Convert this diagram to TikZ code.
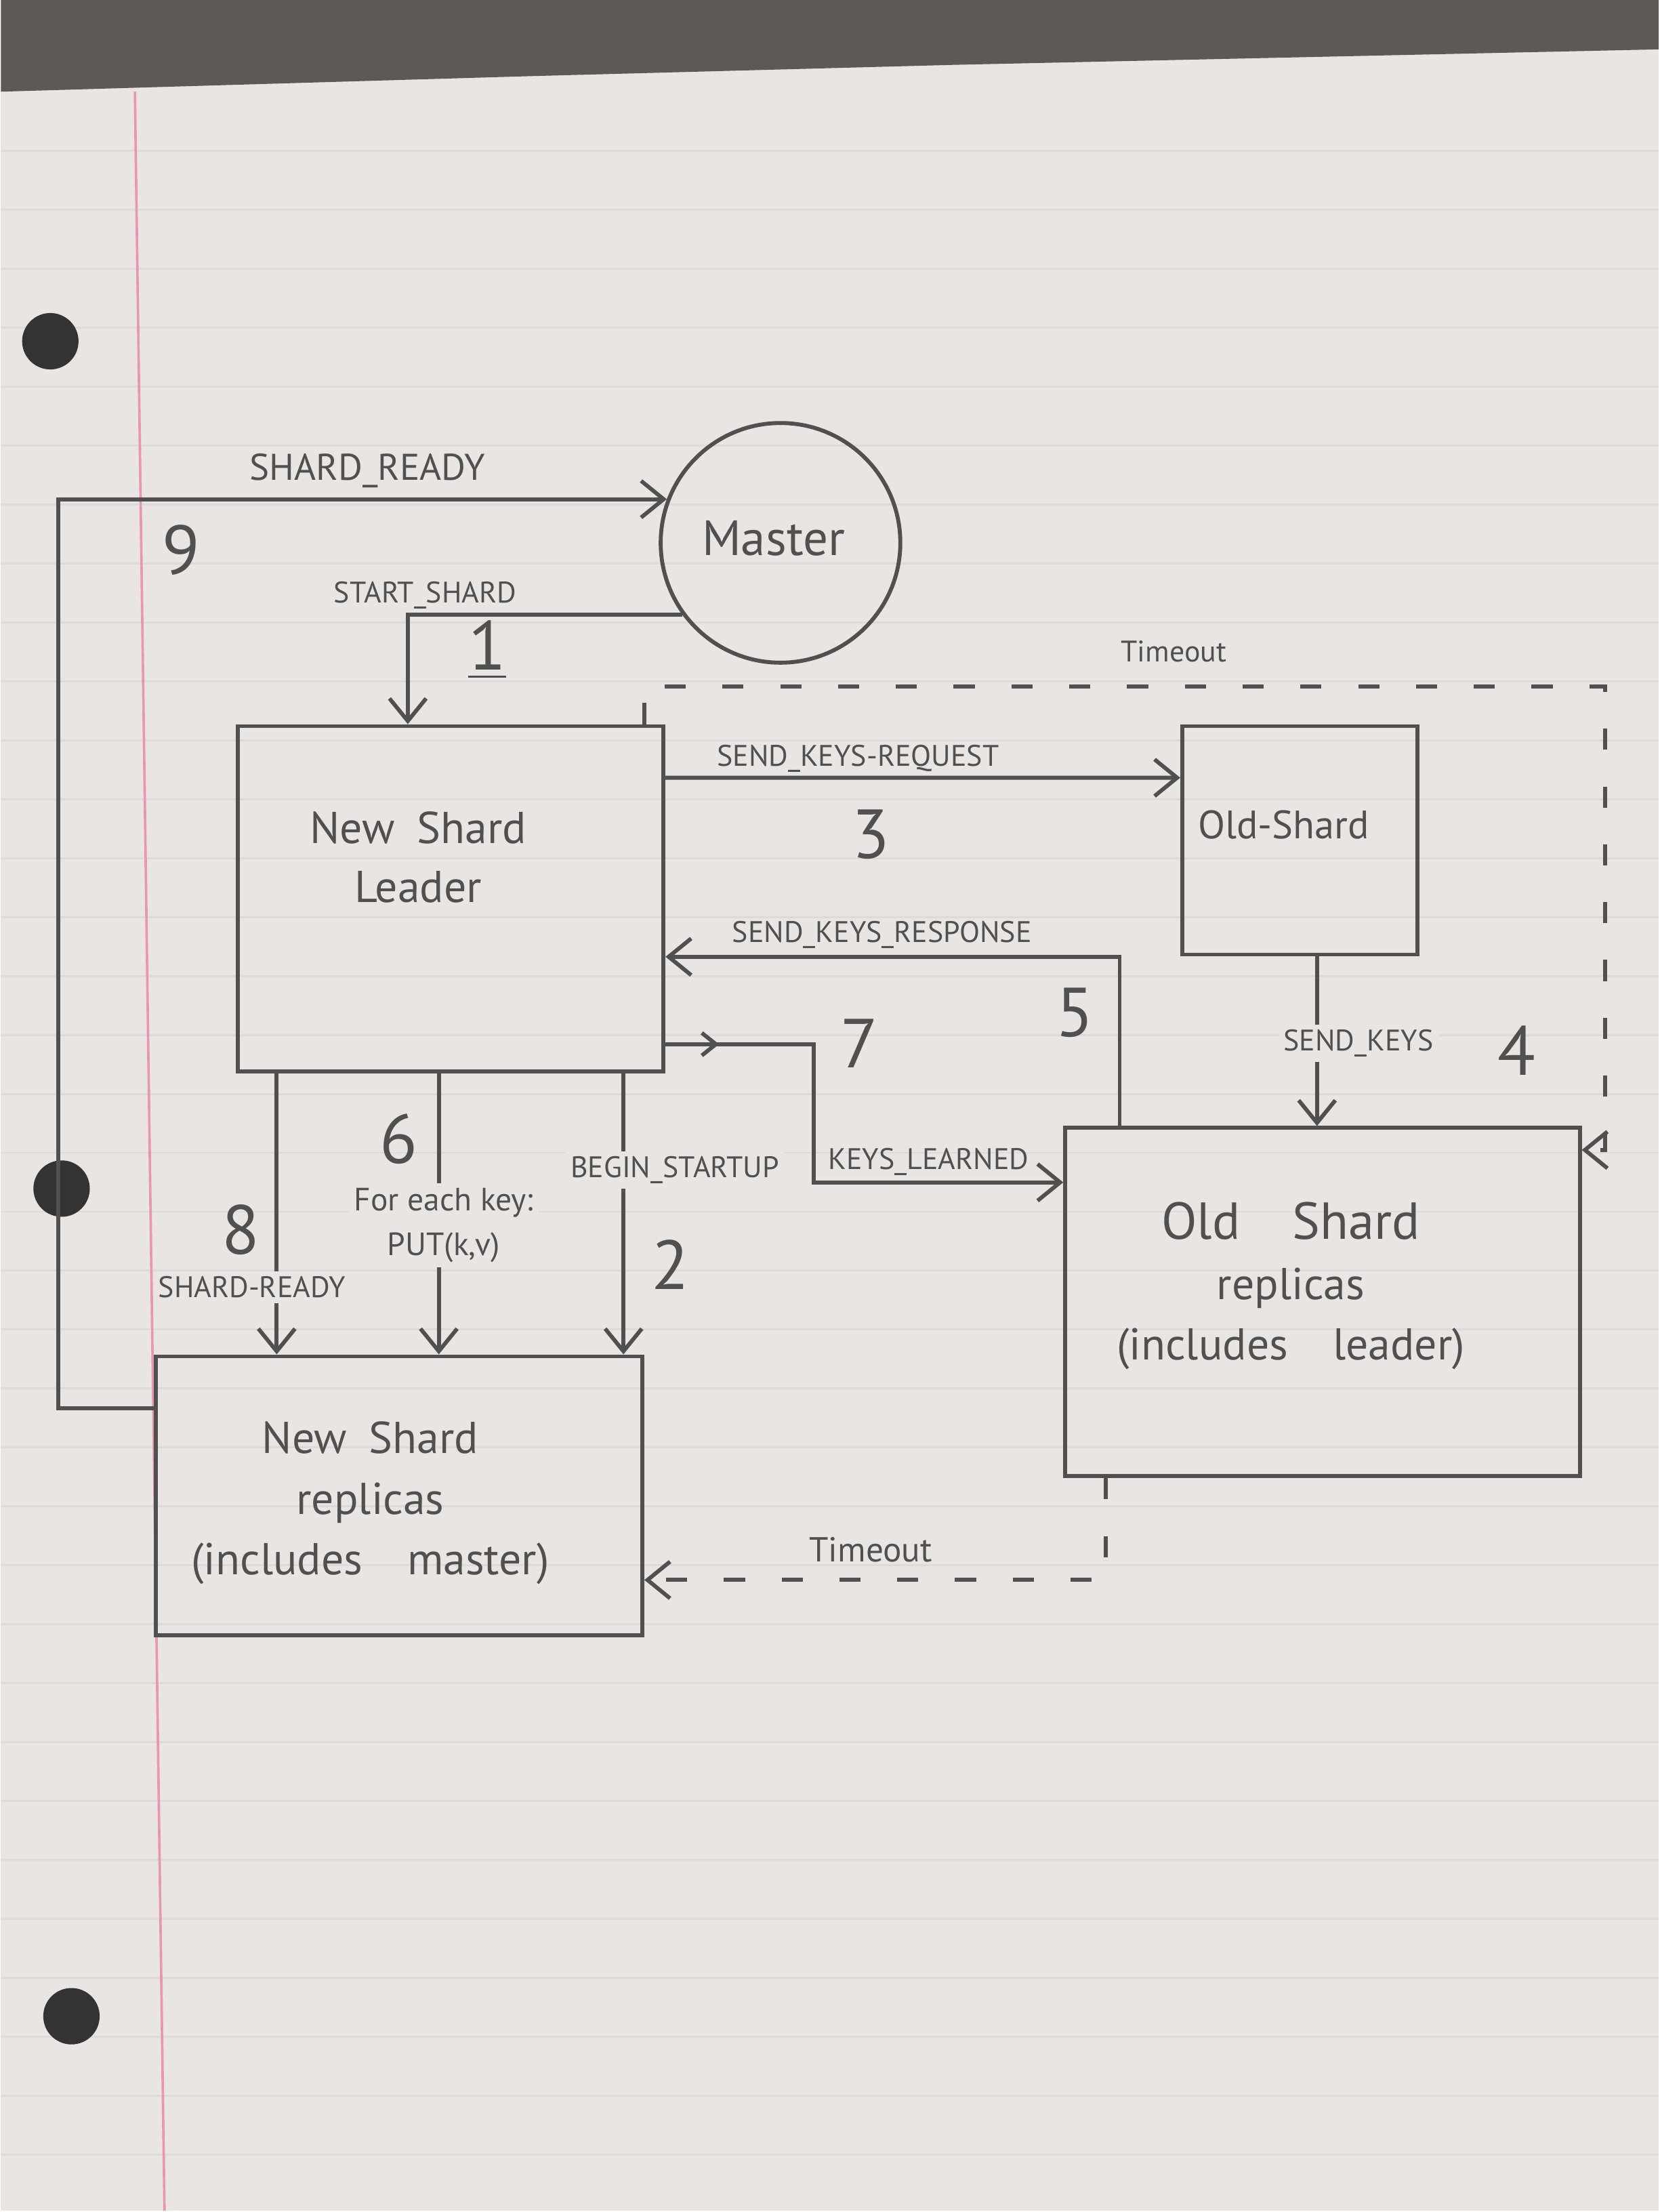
\documentclass[tikz,border=0pt]{standalone}
\usepackage{fontspec}
\setmainfont{PT Sans}
\usetikzlibrary{arrows.meta,fit,calc,decorations.markings}
\definecolor{paper}{RGB}{233,229,226}
\definecolor{desk}{RGB}{92,89,87}
\definecolor{pencil}{RGB}{80,80,80}
\definecolor{ruleline}{RGB}{221,218,217}
\definecolor{marginred}{RGB}{232,150,178}
\begin{document}
\begin{tikzpicture}[x=0.1mm,y=-0.1mm,
  box/.style={draw=pencil, line width=0.8pt, inner sep=0pt},
  conn/.style={draw=pencil, line width=0.8pt},
  arr/.style={conn, -{Straight Barb[length=1.6mm,width=2.6mm]}},
  tdash/.style={dash pattern=on 1.5mm off 2.6mm},
  lbl/.style={text=pencil, font=\fontsize{6}{7}\selectfont, inner sep=1pt},
  biglbl/.style={text=pencil, font=\fontsize{7.5}{9}\selectfont, inner sep=1pt},
  num/.style={text=pencil, font=\fontsize{14}{16}\selectfont, inner sep=0pt},
  inbox/.style={text=pencil, font=\fontsize{9}{12}\selectfont, align=center, inner sep=0pt},
  gap/.style={fill=paper},
  midarr/.style={postaction={decorate}, decoration={markings, mark=at position 0.1 with {\arrow[pencil]{Straight Barb[length=1mm,width=1.6mm]}}}},
]
% paper and desk
\fill[paper] (0,0) rectangle (1176,1568);
\fill[desk] (0,0) -- (1176,0) -- (1176,35) -- (675,46) -- (375,54) -- (0,65) -- cycle;
\foreach \k in {0,...,34} \draw[ruleline, line width=0.4pt] (0,{107+41.8*\k}) -- (1176,{107+41.8*\k});
\draw[marginred, line width=0.5pt] (95,65) -- (116,1568);
\fill[black!80] (35,242) circle (2mm);
\fill[black!80] (43,843) circle (2mm);
\fill[black!80] (50,1430) circle (2mm);

% nodes
\node[box, circle, minimum size=17mm] (master) at (553,385) {};
\node[inbox, font=\fontsize{10}{12}\selectfont] (mastertext) at (548,382) {Master};
\node[box, fit={(168,515) (470,760)}] (nsl) {};
\node[inbox] (nsltext) at (296,608) {New\enspace Shard\\Leader};
\node[box, fit={(838,515) (1005,677)}] (os) {};
\node[inbox, font=\fontsize{8}{10}\selectfont] (ostext) at (910,585) {Old-Shard};
\node[box, fit={(755,800) (1120,1047)}] (osr) {};
\node[inbox, font=\fontsize{9}{12.2}\selectfont] (osrtext) at (915,912) {{\fontsize{10.5}{12}\selectfont Old\quad Shard}\\ replicas\\ (includes\quad leader)};
\node[box, fit={(110,962) (455,1160)}] (nsr) {};
\node[inbox, font=\fontsize{9}{12.2}\selectfont] (nsrtext) at (262,1066) {New\enspace Shard\\ replicas\\ (includes\quad master)};

% 9: SHARD_READY to master
\draw[arr] ($(nsr.north west)+(0,38)$) -- ++(-68,0) |- (master.159);
\node[biglbl, anchor=south] (l9) at (260,350) {SHARD\_READY};
\node[num] (n9) at (128,390) {9};

% 1: START_SHARD
\draw[arr] (master.216) -| ($(nsl.north west)+(122,0)$);
\node[lbl, anchor=south west] (l1) at (232,436) {START\_SHARD};
\node[num] (n1) at (345,461) {\underline{1}};

% 2: BEGIN_STARTUP
\draw[arr] ($(nsl.south west)+(275,0)$) -- ($(nsr.north west)+(333,0)$);
\node[lbl, gap] (l2) at (478,830) {BEGIN\_STARTUP};
\node[num] (n2) at (475,897) {2};

% 6: PUT
\draw[arr] ($(nsl.south west)+(144,0)$) -- ($(nsr.north west)+(202,0)$);
\node[lbl, gap, align=center, font=\fontsize{6.5}{9}\selectfont] (l6) at (314,869) {For each key:\\PUT(k,v)};
\node[num] (n6) at (282,808) {6};

% 8: SHARD-READY
\draw[arr] ($(nsl.south west)+(29,0)$) -- ($(nsr.north west)+(87,0)$);
\node[lbl, gap] (l8) at (178,913) {SHARD-READY};
\node[num] (n8) at (170,872) {8};

% 3: SEND_KEYS-REQUEST
\draw[arr] ($(nsl.north east)+(0,38)$) -- ($(os.north west)+(0,38)$);
\node[lbl, anchor=south] (l3) at (608,552) {SEND\_KEYS-REQUEST};
\node[num] (n3) at (617,592) {3};

% 5: SEND_KEYS_RESPONSE
\draw[arr] ($(osr.north west)+(40,0)$) |- ($(nsl.north east)+(0,165)$);
\node[lbl, anchor=south] (l5) at (625,677) {SEND\_KEYS\_RESPONSE};
\node[num] (n5) at (762,718) {5};

% 4: SEND_KEYS
\draw[arr] ($(os.south west)+(97,0)$) -- ($(osr.north west)+(180,0)$);
\node[lbl, gap] (l4) at (963,740) {SEND\_KEYS};
\node[num] (n4) at (1075,745) {4};

% 7: KEYS_LEARNED
\draw[arr, midarr] ($(nsl.north east)+(0,227)$) -- ++(105,0) |- ($(osr.north west)+(0,40)$);
\node[lbl, anchor=south] (l7) at (658,838) {KEYS\_LEARNED};
\node[num] (n7) at (609,740) {7};

% Timeout (top)
\draw[arr, tdash] ($(nsl.north east)+(-15,0)$) |- (1138,487) |- ($(osr.north east)+(0,17)$);
\node[lbl] (lt1) at (832,462) {Timeout};

% Timeout (bottom)
\draw[arr, tdash] ($(osr.south west)+(30,0)$) |- ($(nsr.north east)+(0,160)$);
\node[lbl, font=\fontsize{7}{8}\selectfont] (lt2) at (617,1099) {Timeout};

\useasboundingbox (0,0) rectangle (1176,1568);
\end{tikzpicture}
\end{document}
